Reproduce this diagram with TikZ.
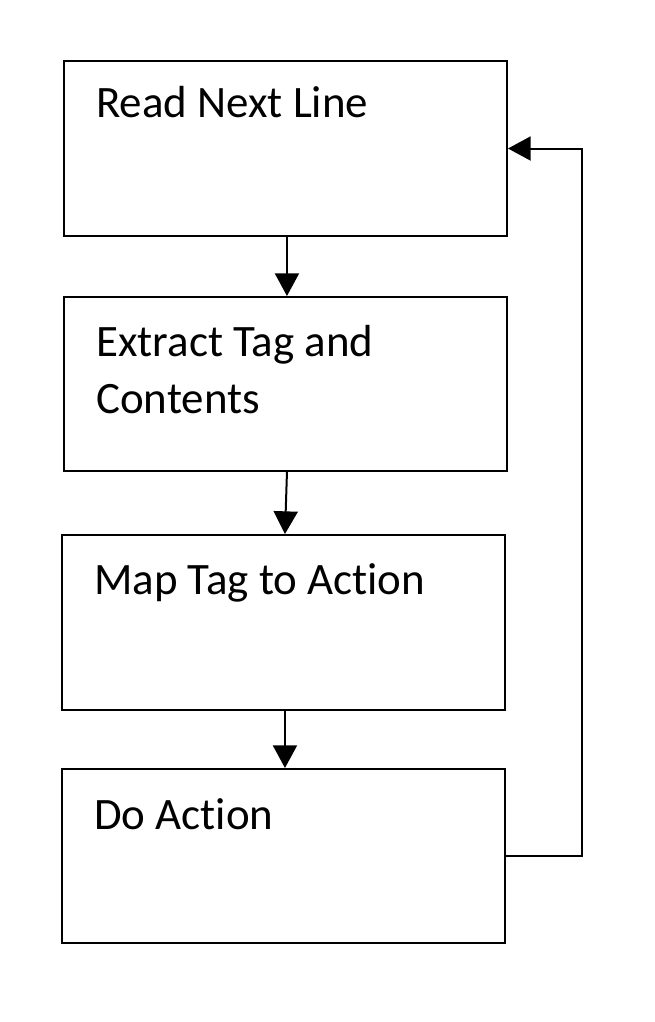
\documentclass[tikz,border=0pt]{standalone}
\usepackage{fontspec}
\setmainfont[Ligatures={NoCommon}]{Carlito}
\usetikzlibrary{arrows.meta}
\begin{document}
\begin{tikzpicture}[x=0.75pt,y=-0.75pt,
  box/.style={draw=black, line width=1.5pt, rectangle, inner sep=0pt},
  lbl/.style={anchor=base west, inner sep=0pt, font=\fontsize{33.7}{42}\selectfont},
  arr/.style={draw=black, line width=1.5pt, -{Triangle[length=17pt,width=18pt]}}]
\useasboundingbox[fill=white] (0,0) rectangle (654,1022);
\node[box, minimum width=443*0.75pt, minimum height=175*0.75pt] (b1) at (285.5,148.5) {};
\node[box, minimum width=443*0.75pt, minimum height=174*0.75pt] (b2) at (285.5,384) {};
\node[box, minimum width=443*0.75pt, minimum height=175*0.75pt] (b3) at (283.5,622.5) {};
\node[box, minimum width=443*0.75pt, minimum height=174*0.75pt] (b4) at (283.5,856) {};
\node[lbl] (t1) at (96,117) {Read Next Line};
\node[lbl] (t2a) at (96,356) {Extract Tag and};
\node[lbl] (t2b) at (96,413) {Contents};
\node[lbl] (t3) at (94,594) {Map Tag to Action};
\node[lbl] (t4) at (94,829) {Do Action};
\draw[arr] ([xshift=1.1pt]b1.south) -- ([xshift=1.1pt]b2.north);
\draw[arr] ([xshift=1.1pt]b2.south) -- ([xshift=1.1pt]b3.north);
\draw[arr] ([xshift=1.1pt]b3.south) -- ([xshift=1.1pt]b4.north);
\draw[arr] (b4.east) -- ++(76,0) |- (b1.east);
\end{tikzpicture}
\end{document}
